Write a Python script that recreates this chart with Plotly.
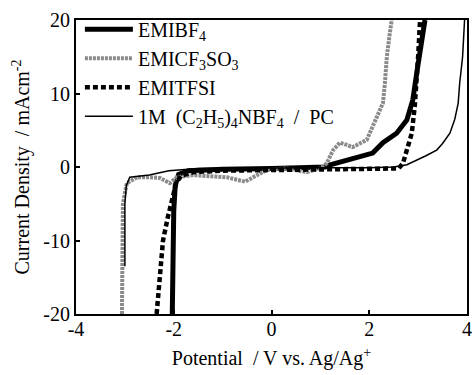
import plotly.graph_objects as go

# EMIBF4
bf4_v = [-2.03, -2.02, -2.00, -1.97, -1.90, -1.70, -1.00, 0.00, 0.80, 1.10, 1.20, 1.40, 1.60, 1.80, 2.07, 2.28, 2.56, 2.77, 2.89, 2.99, 3.10, 3.14]
bf4_i = [-20.0, -12.0, -6.0, -2.5, -1.0, -0.5, -0.3, -0.2, -0.1, 0.0, 0.3, 0.7, 1.0, 1.4, 1.9, 3.3, 4.6, 6.4, 9.1, 13.6, 18.2, 20.0]

# EMICF3SO3
cf3_v = [-3.06, -3.06, -3.04, -2.96, -2.75, -2.50, -2.28, -2.08, -1.94, -1.60, -0.91, -0.54, -0.38, -0.10, 0.30, 0.72, 1.00, 1.13, 1.26, 1.40, 1.54, 1.66, 1.95, 2.07, 2.28, 2.32, 2.36, 2.42, 2.46]
cf3_i = [-20.0, -10.0, -5.0, -2.2, -1.4, -1.4, -1.5, -2.2, -1.4, -1.1, -1.4, -2.0, -1.4, -0.4, -0.2, -0.7, -0.2, 0.5, 2.3, 3.3, 3.0, 2.7, 3.7, 5.4, 8.7, 11.4, 15.0, 18.2, 20.0]

# EMITFSI
tfsi_v = [-2.35, -2.28, -2.22, -2.12, -2.00, -1.95, -1.85, -1.60, -1.00, 0.00, 1.00, 2.00, 2.60, 2.69, 2.79, 2.87, 2.93, 2.97, 3.00, 3.04]
tfsi_i = [-20.0, -15.0, -10.0, -6.8, -3.5, -2.2, -1.2, -0.7, -0.5, -0.4, -0.3, -0.3, -0.2, 0.5, 2.7, 4.6, 8.2, 11.4, 15.0, 20.0]

# 1M (C2H5)4NBF4 / PC
pc_v = [-3.00, -3.00, -2.97, -2.90, -2.50, -2.10, -1.50, 0.00, 1.00, 2.00, 2.50, 2.77, 2.97, 3.15, 3.38, 3.50, 3.65, 3.75, 3.82, 3.85, 3.91, 3.95]
pc_i = [-13.5, -5.0, -2.5, -1.4, -1.1, -0.5, -0.2, -0.1, -0.1, -0.1, 0.0, 0.3, 0.9, 1.5, 2.3, 3.2, 4.6, 6.5, 8.7, 11.4, 15.0, 20.0]

x_ticks = [-4, -2, 0, 2, 4]
y_ticks = [-20, -10, 0, 10, 20]

FONT = "Liberation Serif, Times New Roman, serif"
NB = "\u00a0"

fig = go.Figure()
fig.add_trace(go.Scatter(x=bf4_v, y=bf4_i, mode="lines", name="EMIBF<sub>4</sub>",
                         line=dict(color="black", width=5)))
fig.add_trace(go.Scatter(x=cf3_v, y=cf3_i, mode="lines", name="EMICF<sub>3</sub>SO<sub>3</sub>",
                         line=dict(color="#8a8a8a", width=4, dash="3px,1px")))
fig.add_trace(go.Scatter(x=tfsi_v, y=tfsi_i, mode="lines", name="EMITFSI",
                         line=dict(color="black", width=4.5, dash="5px,3px")))
fig.add_trace(go.Scatter(x=pc_v, y=pc_i, mode="lines",
                         name=f"1M{NB}{NB}(C<sub>2</sub>H<sub>5</sub>)<sub>4</sub>NBF<sub>4</sub>{NB}{NB}/{NB}{NB}PC",
                         line=dict(color="black", width=1.5)))

fig.update_layout(
    width=475, height=375,
    margin=dict(l=76, r=8, t=20, b=61, autoexpand=False),
    paper_bgcolor="white", plot_bgcolor="white",
    font=dict(family=FONT, size=20, color="black"),
    showlegend=True,
    legend=dict(x=0.01, y=1.035, xanchor="left", yanchor="top",
                bgcolor="rgba(0,0,0,0)", borderwidth=0,
                font=dict(family=FONT, size=20, color="black"),
                itemwidth=48, tracegroupgap=0),
    xaxis=dict(range=[-4, 4], tickvals=x_ticks, ticktext=[str(v) for v in x_ticks],
               ticks="inside", ticklen=4, tickwidth=2, tickcolor="black",
               showline=True, linecolor="black", linewidth=2, mirror=True,
               showgrid=False, zeroline=False, automargin=False, ticklabelstandoff=-4,
               title=dict(text="Potential  / V vs. Ag/Ag<sup>+</sup>", font=dict(family=FONT, size=20), standoff=12)),
    yaxis=dict(range=[-20, 20], tickvals=y_ticks, ticktext=[str(v) for v in y_ticks],
               ticks="inside", ticklen=4, tickwidth=2, tickcolor="black",
               showline=True, linecolor="black", linewidth=2, mirror=True,
               showgrid=False, zeroline=False, automargin=False,
               title=dict(text="Current Density  / mAcm<sup>-2</sup>", font=dict(family=FONT, size=20), standoff=8)),
)

fig.write_html("out.html")
